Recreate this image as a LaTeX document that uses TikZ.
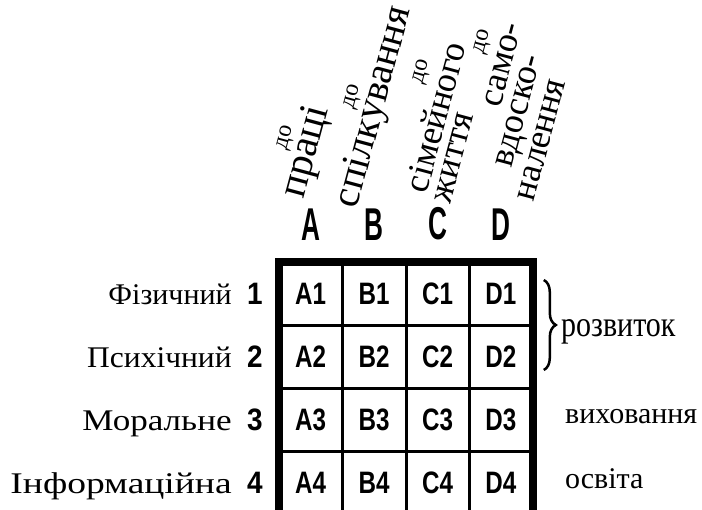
\documentclass[tikz,border=0pt]{standalone}
\usepackage{fontspec}
\setmainfont{Liberation Serif}
\newfontfamily\cellfont[FakeStretch=0.78]{Liberation Sans}
\newfontfamily\headfont[FakeStretch=0.57]{Liberation Sans}
\newfontfamily\numfont[FakeStretch=0.9]{Liberation Sans}
\usetikzlibrary{positioning,decorations.pathreplacing}

\tikzset{
  cell/.style={minimum width=63.4pt, minimum height=63pt, inner sep=0pt,
    font=\cellfont\bfseries\fontsize{31}{31}\selectfont},
  colhead/.style={inner sep=0pt, font=\headfont\bfseries\fontsize{46}{46}\selectfont},
  rownum/.style={inner sep=0pt, font=\numfont\bfseries\fontsize{31}{31}\selectfont},
  rowname/.style={inner sep=0pt, font=\fontsize{30}{30}\selectfont},
  goal/.style={inner sep=0pt, rotate=75, font=\fontsize{36}{36}\selectfont},
  prep/.style={inner sep=0pt, rotate=75, font=\fontsize{24}{24}\selectfont},
  sidetxt/.style={inner sep=0pt, anchor=base west, font=\fontsize{30}{30}\selectfont},
  innerline/.style={line width=3pt},
  outerline/.style={line width=8pt},
  bracket/.style={line width=2.5pt, decorate, decoration={brace, amplitude=12pt}},
}

\begin{document}
\begin{tikzpicture}[x=1pt, y=-1pt]
  \useasboundingbox (0,0) rectangle (702,510);
  \coordinate (bottom) at (0,510);

  % cells
  \foreach \c [count=\i] in {A,B,C,D} {
    \foreach \r in {1,2,3,4}
      \node[cell] (\c\r) at ({279+63.4*(\i-0.5)}, {262.5+63*(\r-0.5)}) {\c\r};
    \node[colhead, above=22pt of \c1] (h\c) {\c};
  }

  % grid
  \foreach \c in {A,B,C}
    \draw[innerline] (\c1.north east) -- (\c1.north east |- bottom);
  \foreach \r in {1,2,3}
    \draw[innerline] (A\r.south west) -- (D\r.south east);
  \draw[outerline] (A1.north west |- bottom) |- (D1.north east) -- (D1.north east |- bottom);

  % rows
  \node[rownum, left=16pt of A1] (n1) {1};
  \node[rownum, left=16pt of A2] (n2) {2};
  \node[rownum, left=16pt of A3] (n3) {3};
  \node[rownum, left=16pt of A4] (n4) {4};
  \node[rowname, left=15pt of n1.base west, anchor=base east] (fiz) {Фізичний};
  \node[rowname, left=15pt of n2.base west, anchor=base east, xscale=1.05] (psy) {Психічний};
  \node[rowname, left=15pt of n3.base west, anchor=base east, xscale=1.17] (mor) {Моральне};
  \node[rowname, left=15pt of n4.base west, anchor=base east, xscale=1.25] (inf) {Інформаційна};

  % top
  \node[prep] (do1) at (286,138) {до};
  \node[goal, font=\fontsize{41}{41}\selectfont] (praci) at (307,152) {праці};
  \node[prep] (do2) at (353,97) {до};
  \node[goal, font=\fontsize{40}{40}\selectfont] (spilk) at (375,107) {спілкування};
  \node[prep] (do3) at (422,72) {до};
  \node[goal] (simej) at (435,117) {сімейного};
  \node[goal] (zhytt) at (454,158) {життя};
  \node[prep] (do4) at (483,42) {до};
  \node[goal] (samo) at (503,65) {само-};
  \node[goal] (vdosk) at (522,112) {вдоско-};
  \node[goal] (nalen) at (542,140) {налення};

  % right side
  \draw[bracket] ([xshift=11pt, yshift=14pt]D1.east) -- ([xshift=11pt, yshift=-13pt]D2.east);
  \node[sidetxt, yscale=1.2] (rozv) at (561,337) {розвиток};
  \node[sidetxt] (vykh) at (565,424) {виховання};
  \node[sidetxt] (osv) at (565,489) {освіта};
\end{tikzpicture}
\end{document}
